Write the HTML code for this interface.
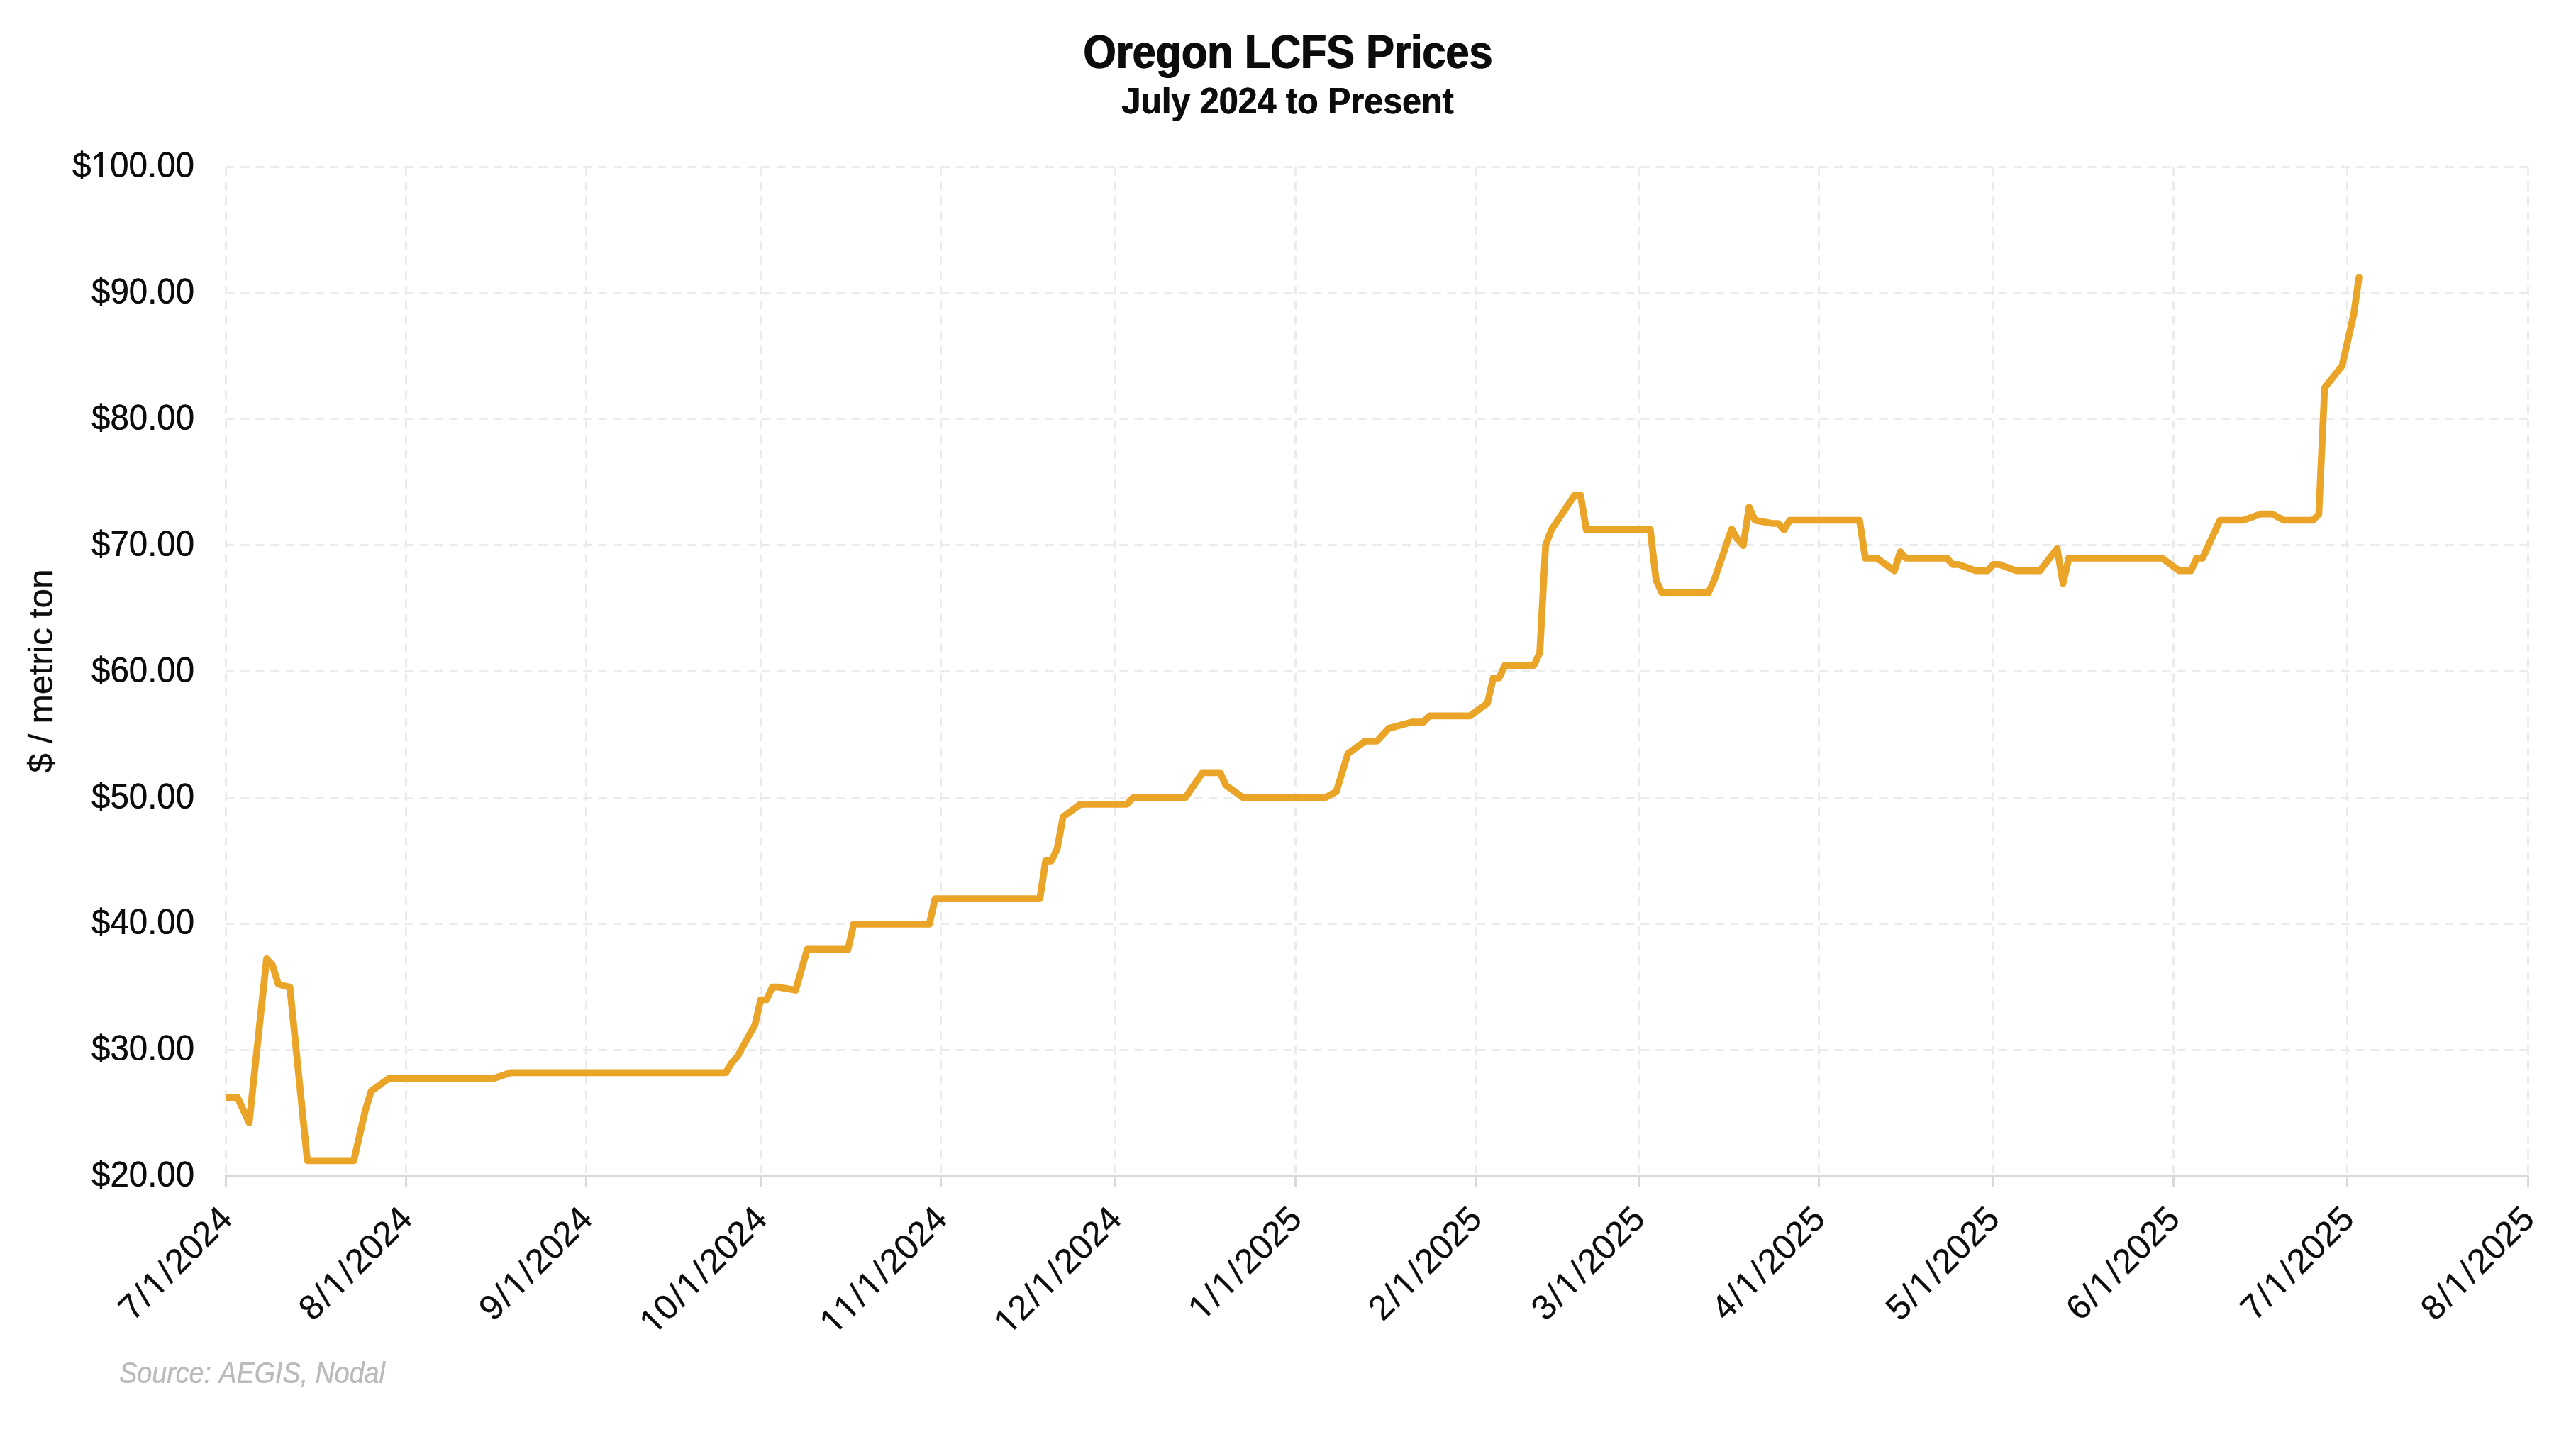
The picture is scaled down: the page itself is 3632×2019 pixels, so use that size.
<!DOCTYPE html>
<html lang="en"><head><meta charset="utf-8"><title>Oregon LCFS Prices</title>
<style>
html,body{margin:0;padding:0;background:#fff;}
body{width:3632px;height:2019px;overflow:hidden;}
svg{display:block;will-change:transform;}
text{font-family:"Liberation Sans",sans-serif;fill:#0c0c0c;font-kerning:none;}
</style></head>
<body>
<svg width="3632" height="2019" viewBox="0 0 3632 2019">
<rect width="3632" height="2019" fill="#fff"/>
<g stroke="#ebebeb" stroke-width="3" stroke-dasharray="12 9" fill="none">
<line x1="318.5" y1="235.5" x2="3564.5" y2="235.5"/>
<line x1="318.5" y1="412.5" x2="3564.5" y2="412.5"/>
<line x1="318.5" y1="590.5" x2="3564.5" y2="590.5"/>
<line x1="318.5" y1="768.5" x2="3564.5" y2="768.5"/>
<line x1="318.5" y1="946.5" x2="3564.5" y2="946.5"/>
<line x1="318.5" y1="1124.5" x2="3564.5" y2="1124.5"/>
<line x1="318.5" y1="1302.5" x2="3564.5" y2="1302.5"/>
<line x1="318.5" y1="1480.5" x2="3564.5" y2="1480.5"/>
<line x1="318.5" y1="235.5" x2="318.5" y2="1658.5"/>
<line x1="572.5" y1="235.5" x2="572.5" y2="1658.5"/>
<line x1="826.5" y1="235.5" x2="826.5" y2="1658.5"/>
<line x1="1072.5" y1="235.5" x2="1072.5" y2="1658.5"/>
<line x1="1326.5" y1="235.5" x2="1326.5" y2="1658.5"/>
<line x1="1572.5" y1="235.5" x2="1572.5" y2="1658.5"/>
<line x1="1826.5" y1="235.5" x2="1826.5" y2="1658.5"/>
<line x1="2080.5" y1="235.5" x2="2080.5" y2="1658.5"/>
<line x1="2310.5" y1="235.5" x2="2310.5" y2="1658.5"/>
<line x1="2564.5" y1="235.5" x2="2564.5" y2="1658.5"/>
<line x1="2809.5" y1="235.5" x2="2809.5" y2="1658.5"/>
<line x1="3064.5" y1="235.5" x2="3064.5" y2="1658.5"/>
<line x1="3309.5" y1="235.5" x2="3309.5" y2="1658.5"/>
<line x1="3564.5" y1="235.5" x2="3564.5" y2="1658.5"/>
</g>
<g stroke="#d9d9d9" stroke-width="3" fill="none">
<line x1="317.0" y1="1658.5" x2="3566.0" y2="1658.5"/>
<line x1="318.5" y1="1658.5" x2="318.5" y2="1673.5"/>
<line x1="572.5" y1="1658.5" x2="572.5" y2="1673.5"/>
<line x1="826.5" y1="1658.5" x2="826.5" y2="1673.5"/>
<line x1="1072.5" y1="1658.5" x2="1072.5" y2="1673.5"/>
<line x1="1326.5" y1="1658.5" x2="1326.5" y2="1673.5"/>
<line x1="1572.5" y1="1658.5" x2="1572.5" y2="1673.5"/>
<line x1="1826.5" y1="1658.5" x2="1826.5" y2="1673.5"/>
<line x1="2080.5" y1="1658.5" x2="2080.5" y2="1673.5"/>
<line x1="2310.5" y1="1658.5" x2="2310.5" y2="1673.5"/>
<line x1="2564.5" y1="1658.5" x2="2564.5" y2="1673.5"/>
<line x1="2809.5" y1="1658.5" x2="2809.5" y2="1673.5"/>
<line x1="3064.5" y1="1658.5" x2="3064.5" y2="1673.5"/>
<line x1="3309.5" y1="1658.5" x2="3309.5" y2="1673.5"/>
<line x1="3564.5" y1="1658.5" x2="3564.5" y2="1673.5"/>
</g>
<clipPath id="pc"><rect x="318.5" y="215.5" width="3246.0" height="1443.0"/></clipPath>
<polyline clip-path="url(#pc)" points="318.5,1547.3 334.9,1547.3 351.3,1582.9 375.9,1351.7 384.1,1360.6 392.3,1387.2 400.5,1389.9 408.7,1391.7 433.3,1636.3 498.8,1636.3 515.2,1565.1 523.4,1538.4 548.0,1520.6 695.6,1520.6 720.2,1512.3 1023.4,1512.3 1031.6,1498.4 1039.8,1489.5 1064.4,1445.0 1072.6,1409.5 1080.8,1409.5 1089.0,1391.7 1097.2,1391.7 1121.8,1396.1 1138.2,1338.3 1195.6,1338.3 1203.8,1302.8 1310.3,1302.8 1318.5,1267.2 1466.1,1267.2 1474.3,1213.8 1482.5,1213.8 1490.7,1196.0 1498.9,1151.6 1523.5,1133.8 1589.0,1133.8 1597.2,1124.9 1671.0,1124.9 1695.6,1089.3 1720.2,1089.3 1728.4,1107.1 1753.0,1124.9 1867.7,1124.9 1884.1,1116.0 1900.5,1062.6 1925.1,1044.8 1941.5,1044.8 1957.9,1027.0 1990.7,1018.1 2007.1,1018.1 2015.3,1009.3 2072.7,1009.3 2097.2,991.5 2105.4,955.9 2113.6,955.9 2121.8,938.1 2162.8,938.1 2171.0,920.3 2179.2,769.1 2187.4,746.9 2220.2,698.0 2228.4,698.0 2236.6,746.9 2326.8,746.9 2335.0,818.0 2343.2,835.8 2408.7,835.8 2416.9,818.0 2441.5,746.0 2449.7,760.2 2457.9,769.1 2466.1,714.9 2474.3,733.5 2498.9,738.0 2507.1,738.0 2515.3,746.9 2523.5,733.5 2621.8,733.5 2630.0,786.9 2646.4,786.9 2671.0,804.7 2679.2,778.0 2687.4,786.9 2744.8,786.9 2753.0,795.8 2761.2,795.8 2785.8,804.7 2802.2,804.7 2810.4,795.8 2818.6,795.8 2843.2,804.7 2876.0,804.7 2900.5,773.6 2908.7,822.5 2916.9,786.9 3048.1,786.9 3072.7,804.7 3089.1,804.7 3097.3,786.9 3105.5,786.9 3130.1,733.5 3162.8,733.5 3187.4,724.7 3203.8,724.7 3220.2,733.5 3261.2,733.5 3269.4,724.7 3277.6,546.8 3302.2,515.7 3318.6,443.6 3326.0,391.1" fill="none" stroke="#eaa528" stroke-width="9.7" stroke-linejoin="round" stroke-linecap="round"/>
<g id="yl" font-size="49.2" text-anchor="end" transform="translate(-0.25,0)">
<text x="274.1" y="250.1" textLength="172.1" lengthAdjust="spacingAndGlyphs">$100.00</text>
<text x="274.1" y="428.0" textLength="145.0" lengthAdjust="spacingAndGlyphs">$90.00</text>
<text x="274.1" y="605.9" textLength="145.0" lengthAdjust="spacingAndGlyphs">$80.00</text>
<text x="274.1" y="783.7" textLength="145.0" lengthAdjust="spacingAndGlyphs">$70.00</text>
<text x="274.1" y="961.6" textLength="145.0" lengthAdjust="spacingAndGlyphs">$60.00</text>
<text x="274.1" y="1139.5" textLength="145.0" lengthAdjust="spacingAndGlyphs">$50.00</text>
<text x="274.1" y="1317.3" textLength="145.0" lengthAdjust="spacingAndGlyphs">$40.00</text>
<text x="274.1" y="1495.2" textLength="145.0" lengthAdjust="spacingAndGlyphs">$30.00</text>
<text x="274.1" y="1673.1" textLength="145.0" lengthAdjust="spacingAndGlyphs">$20.00</text>
</g>
<use href="#yl" x="0.5"/>
<rect x="130.3" y="244.9" width="9.8" height="6.7" fill="#fff"/><rect x="145.0" y="244.9" width="9.6" height="6.7" fill="#fff"/>
<g font-size="49.2" text-anchor="end" stroke="#0c0c0c" stroke-width="0.3">
<g transform="translate(330.0,1721.5) rotate(-45)"><text dx="0.0 2.6 2.6 2.6 2.6 0.0 0.0 0.0">7/1/2024</text><rect x="-153.74" y="-5.6" width="10.27" height="7.2" fill="#fff" stroke="none"/><rect x="-138.81" y="-5.6" width="9.89" height="7.2" fill="#fff" stroke="none"/></g>
<g transform="translate(584.1,1721.5) rotate(-45)"><text dx="0.0 2.6 2.6 2.6 2.6 0.0 0.0 0.0">8/1/2024</text><rect x="-153.74" y="-5.6" width="10.27" height="7.2" fill="#fff" stroke="none"/><rect x="-138.81" y="-5.6" width="9.89" height="7.2" fill="#fff" stroke="none"/></g>
<g transform="translate(838.2,1721.5) rotate(-45)"><text dx="0.0 2.6 2.6 2.6 2.6 0.0 0.0 0.0">9/1/2024</text><rect x="-153.74" y="-5.6" width="10.27" height="7.2" fill="#fff" stroke="none"/><rect x="-138.81" y="-5.6" width="9.89" height="7.2" fill="#fff" stroke="none"/></g>
<g transform="translate(1084.1,1721.5) rotate(-45)"><text dx="0.0 0.0 2.6 2.6 2.6 2.6 0.0 0.0 0.0">10/1/2024</text><rect x="-227.33" y="-5.6" width="10.27" height="7.2" fill="#fff" stroke="none"/><rect x="-212.41" y="-5.6" width="9.89" height="7.2" fill="#fff" stroke="none"/><rect x="-153.74" y="-5.6" width="10.27" height="7.2" fill="#fff" stroke="none"/><rect x="-138.81" y="-5.6" width="9.89" height="7.2" fill="#fff" stroke="none"/></g>
<g transform="translate(1338.2,1721.5) rotate(-45)"><text dx="0.0 0.0 2.6 2.6 2.6 2.6 0.0 0.0 0.0">11/1/2024</text><rect x="-227.33" y="-5.6" width="10.27" height="7.2" fill="#fff" stroke="none"/><rect x="-212.41" y="-5.6" width="9.89" height="7.2" fill="#fff" stroke="none"/><rect x="-199.97" y="-5.6" width="10.27" height="7.2" fill="#fff" stroke="none"/><rect x="-185.04" y="-5.6" width="9.89" height="7.2" fill="#fff" stroke="none"/><rect x="-153.74" y="-5.6" width="10.27" height="7.2" fill="#fff" stroke="none"/><rect x="-138.81" y="-5.6" width="9.89" height="7.2" fill="#fff" stroke="none"/></g>
<g transform="translate(1584.1,1721.5) rotate(-45)"><text dx="0.0 0.0 2.6 2.6 2.6 2.6 0.0 0.0 0.0">12/1/2024</text><rect x="-227.33" y="-5.6" width="10.27" height="7.2" fill="#fff" stroke="none"/><rect x="-212.41" y="-5.6" width="9.89" height="7.2" fill="#fff" stroke="none"/><rect x="-153.74" y="-5.6" width="10.27" height="7.2" fill="#fff" stroke="none"/><rect x="-138.81" y="-5.6" width="9.89" height="7.2" fill="#fff" stroke="none"/></g>
<g transform="translate(1838.2,1721.5) rotate(-45)"><text dx="0.0 2.6 2.6 2.6 2.6 0.0 0.0 0.0">1/1/2025</text><rect x="-199.97" y="-5.6" width="10.27" height="7.2" fill="#fff" stroke="none"/><rect x="-185.04" y="-5.6" width="9.89" height="7.2" fill="#fff" stroke="none"/><rect x="-153.74" y="-5.6" width="10.27" height="7.2" fill="#fff" stroke="none"/><rect x="-138.81" y="-5.6" width="9.89" height="7.2" fill="#fff" stroke="none"/></g>
<g transform="translate(2092.3,1721.5) rotate(-45)"><text dx="0.0 2.6 2.6 2.6 2.6 0.0 0.0 0.0">2/1/2025</text><rect x="-153.74" y="-5.6" width="10.27" height="7.2" fill="#fff" stroke="none"/><rect x="-138.81" y="-5.6" width="9.89" height="7.2" fill="#fff" stroke="none"/></g>
<g transform="translate(2321.9,1721.5) rotate(-45)"><text dx="0.0 2.6 2.6 2.6 2.6 0.0 0.0 0.0">3/1/2025</text><rect x="-153.74" y="-5.6" width="10.27" height="7.2" fill="#fff" stroke="none"/><rect x="-138.81" y="-5.6" width="9.89" height="7.2" fill="#fff" stroke="none"/></g>
<g transform="translate(2576.0,1721.5) rotate(-45)"><text dx="0.0 2.6 2.6 2.6 2.6 0.0 0.0 0.0">4/1/2025</text><rect x="-153.74" y="-5.6" width="10.27" height="7.2" fill="#fff" stroke="none"/><rect x="-138.81" y="-5.6" width="9.89" height="7.2" fill="#fff" stroke="none"/></g>
<g transform="translate(2821.9,1721.5) rotate(-45)"><text dx="0.0 2.6 2.6 2.6 2.6 0.0 0.0 0.0">5/1/2025</text><rect x="-153.74" y="-5.6" width="10.27" height="7.2" fill="#fff" stroke="none"/><rect x="-138.81" y="-5.6" width="9.89" height="7.2" fill="#fff" stroke="none"/></g>
<g transform="translate(3076.0,1721.5) rotate(-45)"><text dx="0.0 2.6 2.6 2.6 2.6 0.0 0.0 0.0">6/1/2025</text><rect x="-153.74" y="-5.6" width="10.27" height="7.2" fill="#fff" stroke="none"/><rect x="-138.81" y="-5.6" width="9.89" height="7.2" fill="#fff" stroke="none"/></g>
<g transform="translate(3321.9,1721.5) rotate(-45)"><text dx="0.0 2.6 2.6 2.6 2.6 0.0 0.0 0.0">7/1/2025</text><rect x="-153.74" y="-5.6" width="10.27" height="7.2" fill="#fff" stroke="none"/><rect x="-138.81" y="-5.6" width="9.89" height="7.2" fill="#fff" stroke="none"/></g>
<g transform="translate(3576.0,1721.5) rotate(-45)"><text dx="0.0 2.6 2.6 2.6 2.6 0.0 0.0 0.0">8/1/2025</text><rect x="-153.74" y="-5.6" width="10.27" height="7.2" fill="#fff" stroke="none"/><rect x="-138.81" y="-5.6" width="9.89" height="7.2" fill="#fff" stroke="none"/></g>
</g>
<text transform="translate(74.3,946.0) rotate(-90)" font-size="47.8" stroke="#0c0c0c" stroke-width="0.3" text-anchor="middle" textLength="287.4" lengthAdjust="spacingAndGlyphs">$ / metric ton</text>
<text id="t1" x="1815.25" y="95.7" font-size="66.4" font-weight="bold" text-anchor="middle" textLength="577.0" lengthAdjust="spacingAndGlyphs">Oregon LCFS Prices</text>
<use href="#t1" x="1.5"/>
<text id="t2" x="1815.15" y="159.8" font-size="51.7" font-weight="bold" text-anchor="middle" textLength="468.3" lengthAdjust="spacingAndGlyphs">July 2024 to Present</text>
<use href="#t2" x="0.9"/>
<text id="t3" x="168.1" y="1949.8" font-size="42.0" font-style="italic" style="fill:#bbbbbb" textLength="374.6" lengthAdjust="spacingAndGlyphs">Source: AEGIS, Nodal</text>
<use href="#t3" x="0.4"/>
</svg>
</body></html>
